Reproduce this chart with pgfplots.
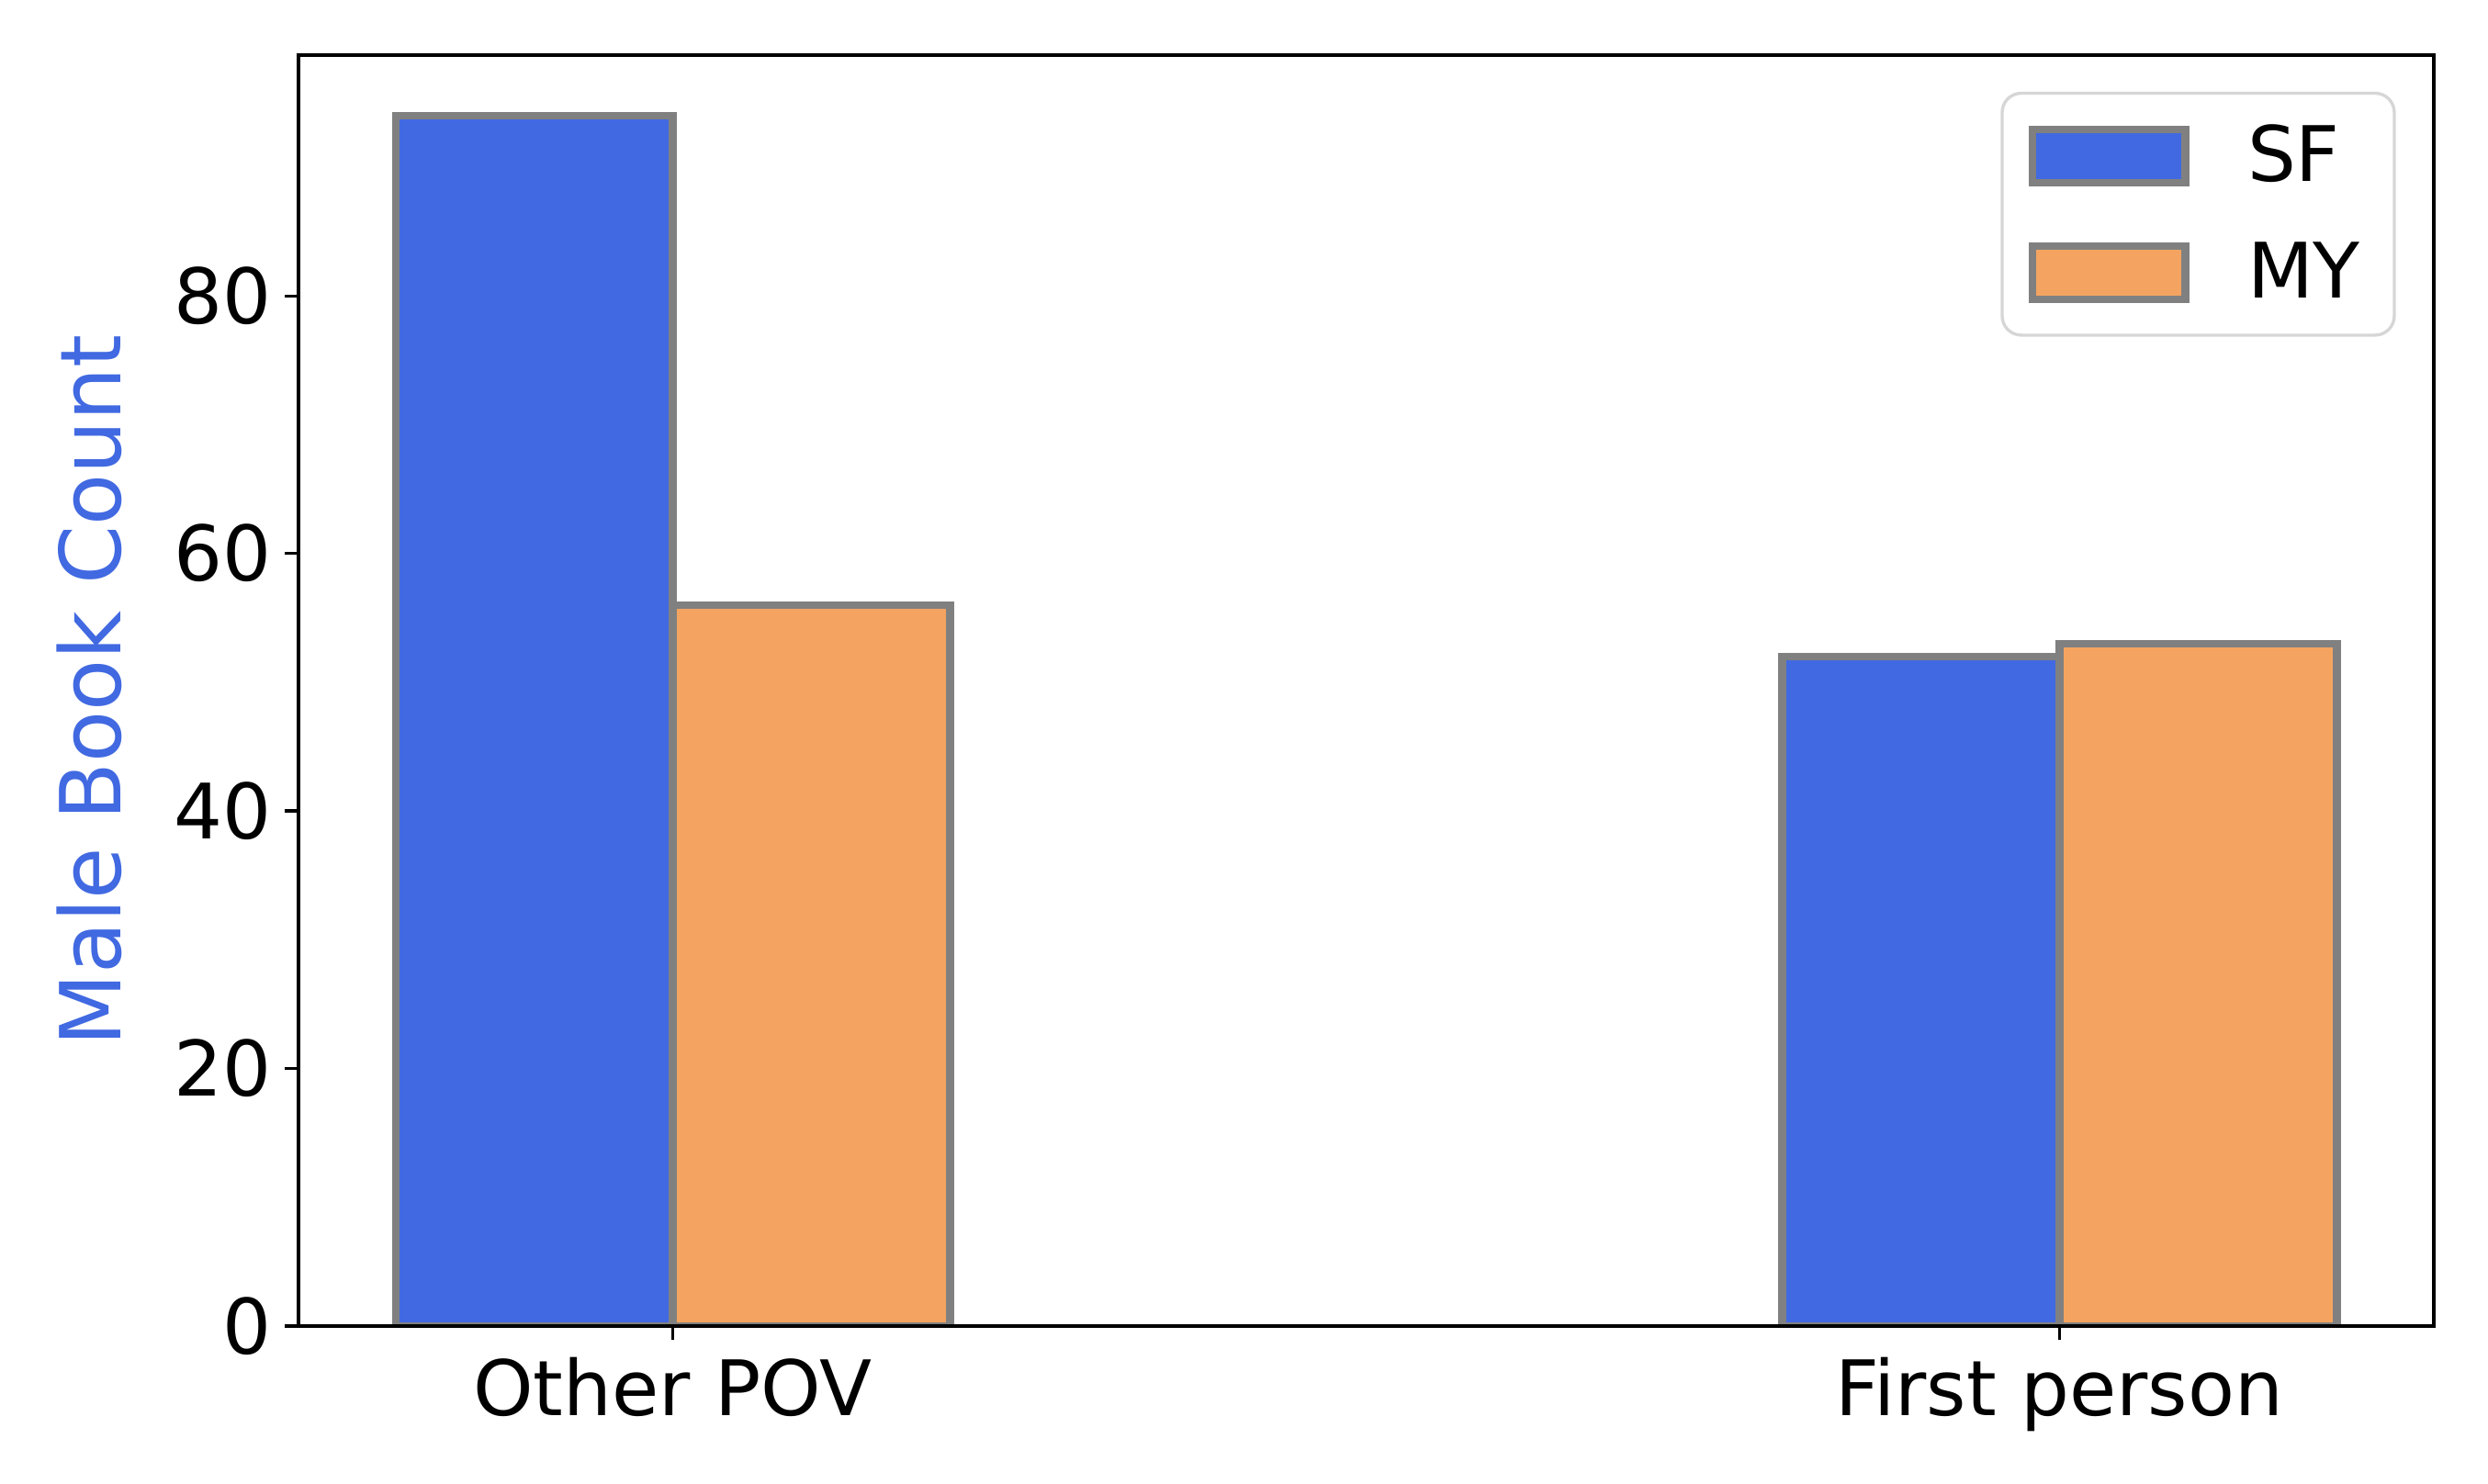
\documentclass[border=0pt]{standalone}
\usepackage{pgfplots}
\pgfplotsset{compat=1.18}
\usepackage{fontspec}
\setmainfont{DejaVu Sans}
\definecolor{royalblue}{RGB}{65,105,225}
\definecolor{sandybrown}{RGB}{244,164,96}
\definecolor{edgegray}{RGB}{128,128,128}
\definecolor{legframe}{RGB}{214,214,214}
\pgfplotsset{
  mybar/.style={ybar, bar width=0.2, bar shift=0, draw=edgegray, line width=2pt,
    legend image code/.code={\draw[##1, sharp corners, line width=2pt] (0pt,-7pt) rectangle (40pt,7pt);}},
}
\begin{document}
\begin{tikzpicture}
\useasboundingbox (-78pt,-41.28pt) rectangle (572.16pt,346.56pt);
\begin{axis}[
  at={(0pt,0pt)}, anchor=south west,
  scale only axis,
  width=558pt, height=332.16pt,
  xmin=-0.27, xmax=1.27,
  ymin=0, ymax=98.7,
  xtick={0,1},
  xticklabels={Other POV, First person},
  ytick={0,20,40,60,80},
  tick pos=left,
  tick align=outside,
  major tick length=3.5pt,
  every tick/.style={black, line width=0.8pt},
  axis line style={line width=0.8pt},
  tick label style={font=\fontsize{20}{24}\selectfont},
  x tick label style={yshift=-1.2pt},
  /pgf/number format/assume math mode=true,
  ylabel={Male Book Count},
  every axis y label/.style={at={(axis description cs:0,0.5)}, xshift=-54.7pt, rotate=90, anchor=center, font=\fontsize{22}{26}\selectfont, text=royalblue},
  axis on top,
  legend style={at={(0.9822,0.9712)}, anchor=north east, draw=legframe, line width=0.8pt,
    rounded corners=5pt, fill=white, inner xsep=6.9pt, inner ysep=6.3pt,
    row sep=10.2pt, column sep=13.2pt, font=\fontsize{20}{24}\selectfont},
  legend cell align=left,
]
\addplot[mybar, fill=royalblue] coordinates {(-0.1,94) (0.9,52)};
\addplot[mybar, fill=sandybrown] coordinates {(0.1,56) (1.1,53)};
\legend{SF, MY}
\end{axis}
\end{tikzpicture}
\end{document}
